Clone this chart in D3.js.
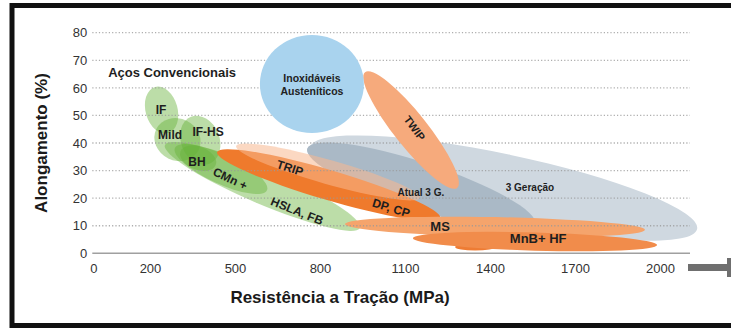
<!DOCTYPE html>
<html>
<head>
<meta charset="utf-8">
<script src="https://cdn.jsdelivr.net/npm/d3@7/dist/d3.min.js"></script>
<style>
body { margin: 0; background: #fff; }
svg { display: block; font-family: "Liberation Sans", Arial, sans-serif; }
</style>
</head>
<body>
<div id="chart"></div>
<script>
var width = 731, height = 329;

var xTicks = [0, 200, 500, 800, 1100, 1400, 1700, 2000];
var yTicks = [0, 10, 20, 30, 40, 50, 60, 70, 80];

// regions: major axis runs from (x1,y1) to (x2,y2) in MPa / %, w = half width in %
var grayRegions = [
  {name: "3 Geração", x1: 765, y1: 38.5, x2: 2131, y2: 8.8, w: 12.3},
  {name: "Atual 3 G.", x1: 755, y1: 38.0, x2: 1559, y2: 10.6, w: 8.5}
];
var greenRegions = [
  {name: "IF", x1: 218, y1: 60.3, x2: 264, y2: 43.6, w: 5.8},
  {name: "Mild", x1: 222, y1: 45.0, x2: 372, y2: 37.5, w: 7.6},
  {name: "IF-HS", x1: 345, y1: 49.5, x2: 410, y2: 32.5, w: 7.0},
  {name: "BH", x1: 308, y1: 37.0, x2: 432, y2: 32.0, w: 4.2},
  {name: "CMn +", x1: 288, y1: 38.2, x2: 613, y2: 22.9, w: 5.3},
  {name: "HSLA, FB", x1: 253, y1: 39.3, x2: 941, y2: 9.2, w: 6.3}
];
var orangeRegions = [
  {name: "DP, CP", x1: 437, y1: 36.7, x2: 1224, y2: 12.8, w: 5.4},
  {name: "TRIP", x1: 504, y1: 38.9, x2: 1153, y2: 20.1, w: 4.4},
  {name: "MS", x1: 888, y1: 10.6, x2: 1947, y2: 8.5, w: 3.6},
  {name: "MnB lobe", x1: 1277, y1: 2.3, x2: 1418, y2: 2.3, w: 1.3},
  {name: "MnB+ HF", x1: 1128, y1: 5.5, x2: 1990, y2: 3.0, w: 3.3}
];
var topRegions = [
  {name: "TWIP", x1: 959, y1: 65.7, x2: 1284, y2: 23.7, w: 6.0},
  {name: "Inox", x1: 588, y1: 61.4, x2: 955, y2: 61.4, w: 17.8}
];

var labels = [
  {text: "Aços Convencionais", x: 278, y: 65.7, a: 0, s: 13},
  {text: "IF", x: 239, y: 52.0, a: 0, s: 12},
  {text: "Mild", x: 271, y: 42.9, a: 0, s: 12},
  {text: "IF-HS", x: 405, y: 43.9, a: 0, s: 12},
  {text: "BH", x: 366, y: 33.1, a: 0, s: 12},
  {text: "CMn +", x: 483, y: 27.0, a: 25, s: 12},
  {text: "HSLA, FB", x: 719, y: 15.3, a: 22, s: 12},
  {text: "TRIP", x: 694, y: 30.9, a: 18, s: 12},
  {text: "DP, CP", x: 1051, y: 16.4, a: 17, s: 12},
  {text: "MS", x: 1224, y: 9.9, a: 0, s: 13},
  {text: "MnB+ HF", x: 1570, y: 5.2, a: 0, s: 13},
  {text: "TWIP", x: 1134, y: 45.4, a: 53, s: 11},
  {text: "Atual 3 G.", x: 1156, y: 22.2, a: 0, s: 10},
  {text: "3 Geração", x: 1541, y: 23.7, a: 0, s: 10}
];
var inoxLines = ["Inoxidáveis", "Austeníticos"];

var colors = {
  "3 Geração": "#cfd8e0", "Atual 3 G.": "#aab9c6",
  "DP, CP": "#ef7a2c", "TRIP": "#f8b890", "MS": "#f5a46c",
  "MnB lobe": "#ee7c34", "MnB+ HF": "#f18c4b",
  "TWIP": "#f6aa7c", "Inox": "#a9d3ee"
};

var svg = d3.select("#chart").append("svg")
  .attr("width", width).attr("height", height);

svg.append("rect").attr("width", width).attr("height", height).attr("fill", "#fff");

var x = d3.scaleLinear().domain([0, 2000]).range([93.3, 660]);
var y = d3.scaleLinear().domain([0, 80]).range([253.3, 32.7]);
var plotRight = 690;

function drawRegions(g, data, fill, opacity) {
  g.selectAll("ellipse").data(data).join("ellipse")
    .attr("transform", function(d) {
      var px1 = x(d.x1), py1 = y(d.y1), px2 = x(d.x2), py2 = y(d.y2);
      var ang = Math.atan2(py2 - py1, px2 - px1) * 180 / Math.PI;
      return "translate(" + (px1 + px2) / 2 + "," + (py1 + py2) / 2 + ") rotate(" + ang + ")";
    })
    .attr("rx", function(d) { return Math.hypot(x(d.x2) - x(d.x1), y(d.y2) - y(d.y1)) / 2; })
    .attr("ry", function(d) { return y(0) - y(d.w); })
    .attr("fill", fill)
    .attr("fill-opacity", opacity);
}

drawRegions(svg.append("g"), grayRegions, function(d) { return colors[d.name]; }, 1);
drawRegions(svg.append("g"), greenRegions, "#66b238", 0.44);
drawRegions(svg.append("g"), orangeRegions, function(d) { return colors[d.name]; },
  function(d) { return d.name == "TRIP" ? 0.55 : 1; });

// dotted grid
svg.append("g").selectAll("line").data(yTicks.filter(function(v) { return v > 0; }))
  .join("line")
  .attr("x1", x(0) - 1).attr("x2", plotRight)
  .attr("y1", function(d) { return y(d); }).attr("y2", function(d) { return y(d); })
  .attr("stroke", "#9a9a9a").attr("stroke-width", 1.3)
  .attr("stroke-dasharray", "1.2,2.1").attr("opacity", 0.8);

svg.append("line")
  .attr("x1", x(0) - 1).attr("x2", plotRight)
  .attr("y1", y(0)).attr("y2", y(0))
  .attr("stroke", "#a0a0a0").attr("stroke-width", 1.5);

drawRegions(svg.append("g"), topRegions, function(d) { return colors[d.name]; }, 1);

// axes
var yAxis = svg.append("g").attr("transform", "translate(" + x(0) + ",0)")
  .call(d3.axisLeft(y).tickValues(yTicks).tickSize(0).tickPadding(6));
var xAxis = svg.append("g").attr("transform", "translate(0," + y(0) + ")")
  .call(d3.axisBottom(x).tickValues(xTicks).tickSize(0).tickPadding(10).tickFormat(d3.format("d")));
[yAxis, xAxis].forEach(function(ax) {
  ax.select(".domain").remove();
  ax.selectAll("text").attr("font-size", 13).attr("fill", "#333")
    .attr("font-family", "Liberation Sans, Arial, sans-serif");
});

// arrow after the x axis
svg.append("rect").attr("x", 688).attr("y", 264).attr("width", 40).attr("height", 7).attr("fill", "#6f6f6f");
svg.append("rect").attr("x", 727).attr("y", 258).attr("width", 4).attr("height", 19).attr("fill", "#6f6f6f");

// region labels
svg.append("g").selectAll("text").data(labels).join("text")
  .attr("transform", function(d) { return "translate(" + x(d.x) + "," + y(d.y) + ") rotate(" + d.a + ")"; })
  .attr("text-anchor", "middle")
  .attr("dominant-baseline", "central")
  .attr("font-weight", "bold")
  .attr("font-size", function(d) { return d.s; })
  .attr("fill", "#1e1e1e")
  .text(function(d) { return d.text; });

var inox = topRegions[1];
svg.append("g").selectAll("text").data(inoxLines).join("text")
  .attr("x", x((inox.x1 + inox.x2) / 2))
  .attr("y", function(d, i) { return y(inox.y1) - 6 + i * 13; })
  .attr("text-anchor", "middle")
  .attr("dominant-baseline", "central")
  .attr("font-weight", "bold")
  .attr("font-size", 10.5)
  .attr("fill", "#222")
  .text(function(d) { return d; });

// axis titles
svg.append("text")
  .attr("transform", "translate(47," + y(40) + ") rotate(-90)")
  .attr("text-anchor", "middle")
  .attr("font-weight", "bold").attr("font-size", 17).attr("fill", "#1a1a1a")
  .text("Alongamento (%)");
svg.append("text")
  .attr("x", 340).attr("y", 303)
  .attr("text-anchor", "middle")
  .attr("font-weight", "bold").attr("font-size", 17).attr("fill", "#1a1a1a")
  .text("Resistência a Tração (MPa)");

// frame
svg.append("rect").attr("x", 12).attr("y", 5.5).attr("width", 800).attr("height", 320)
  .attr("fill", "none").attr("stroke", "#111").attr("stroke-width", 5);
</script>
</body>
</html>
